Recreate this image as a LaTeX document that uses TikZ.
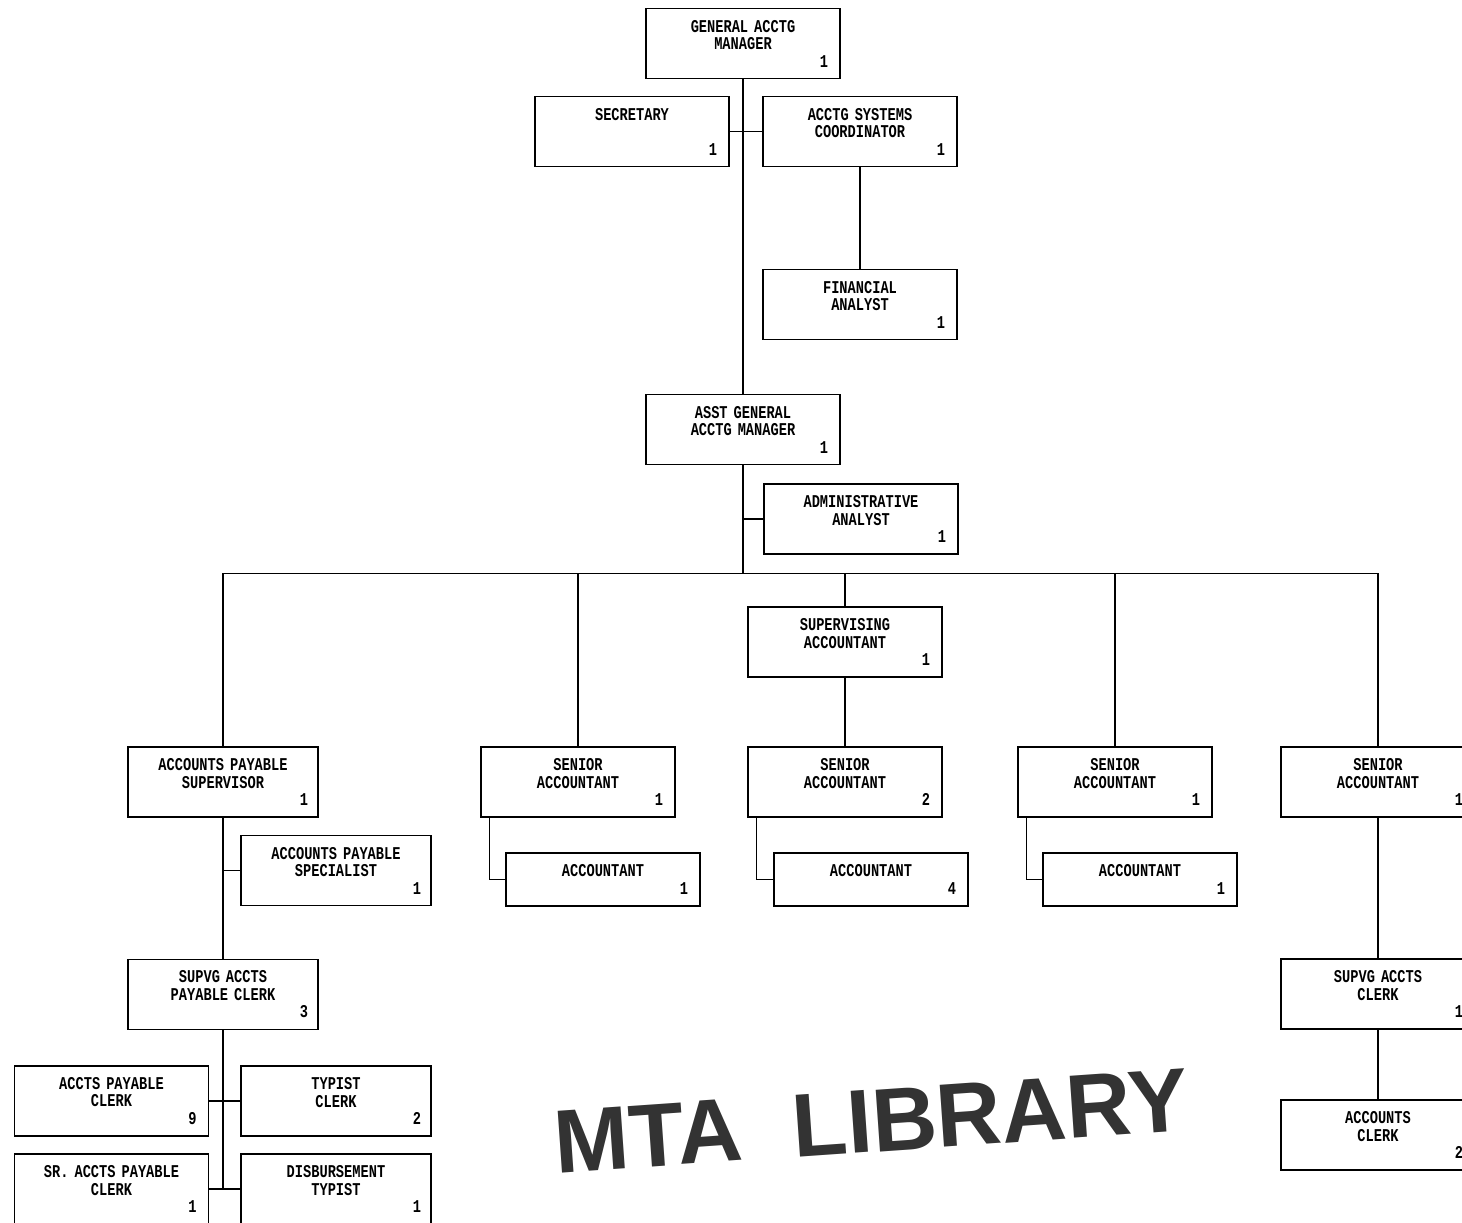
\documentclass[tikz,border=0pt]{standalone}
\usepackage{fontspec}
\newfontfamily\dotfont[FakeStretch=0.76]{Liberation Mono}
\newfontfamily\stampfont{Liberation Sans}
\usetikzlibrary{positioning}

\begin{document}
\begin{tikzpicture}[x=1pt,y=-1pt,on grid,line width=1.2pt,
  post/.style={draw,minimum width=194pt,minimum height=70pt,text width=170pt,
    align=center,inner sep=0pt,font=\dotfont\bfseries\fontsize{18}{17.5}\selectfont},
  staff/.style={post,minimum height=53pt},
  narrow/.style={post,minimum width=190pt},
  stamp/.style={inner sep=0pt,rotate=4,text=black!80,font=\stampfont\bfseries\fontsize{90}{90}\selectfont}]
  \clip (0,0) rectangle (1462,1223);
  \node[post] (gen) at (743,43.5) {GENERAL ACCTG\\MANAGER\\\hfill 1};
  \node[post] (sec) [below left=88pt and 111pt of gen] {SECRETARY\\\mbox{}\\\hfill 1};
  \node[post] (asc) [right=228pt of sec] {ACCTG SYSTEMS\\COORDINATOR\\\hfill 1};
  \node[post] (fa) [below=173pt of asc] {FINANCIAL\\ANALYST\\\hfill 1};
  \node[post] (asst) [below=386pt of gen] {ASST GENERAL\\ACCTG MANAGER\\\hfill 1};
  \node[post] (admin) [below right=89.5pt and 118pt of asst] {ADMINISTRATIVE\\ANALYST\\\hfill 1};
  \node[narrow] (aps) [below left=352.5pt and 520pt of asst] {ACCOUNTS PAYABLE\\SUPERVISOR\\\hfill 1};
  \node[post] (sa1) [right=355pt of aps] {SENIOR\\ACCOUNTANT\\\hfill 1};
  \node[post] (sa2) [right=267pt of sa1] {SENIOR\\ACCOUNTANT\\\hfill 2};
  \node[post] (sa3) [right=270pt of sa2] {SENIOR\\ACCOUNTANT\\\hfill 1};
  \node[post] (sa4) [right=263pt of sa3] {SENIOR\\ACCOUNTANT\\\hfill 1};
  \node[post] (supacc) [above=140pt of sa2] {SUPERVISING\\ACCOUNTANT\\\hfill 1};
  \node[staff] (acc1) [below right=97.5pt and 25pt of sa1] {ACCOUNTANT\\\hfill 1};
  \node[staff] (acc2) [below right=97.5pt and 26pt of sa2] {ACCOUNTANT\\\hfill 4};
  \node[staff] (acc3) [below right=97.5pt and 25pt of sa3] {ACCOUNTANT\\\hfill 1};
  \node[narrow] (apspec) [below right=88.5pt and 113pt of aps] {ACCOUNTS PAYABLE\\SPECIALIST\\\hfill 1};
  \node[narrow] (sapc) [below=212.5pt of aps] {SUPVG ACCTS\\PAYABLE CLERK\\\hfill 3};
  \node[post] (apc) [below left=106.5pt and 111.5pt of sapc] {ACCTS PAYABLE\\CLERK\\\hfill 9};
  \node[narrow] (tc) [right=224.5pt of apc] {TYPIST\\CLERK\\\hfill 2};
  \node[post] (srapc) [below=88pt of apc] {SR. ACCTS PAYABLE\\CLERK\\\hfill 1};
  \node[narrow] (dt) [below=88pt of tc] {DISBURSEMENT\\TYPIST\\\hfill 1};
  \node[post] (sac) [below=212pt of sa4] {SUPVG ACCTS\\CLERK\\\hfill 1};
  \node[post] (ac) [below=141pt of sac] {ACCOUNTS\\CLERK\\\hfill 2};
  \node[stamp] (mta) at (648,1136) {MTA};
  \node[stamp] (library) at (990,1113) {LIBRARY};
  \coordinate (bus) at ([yshift=-108pt]asst.south);
  \draw (gen) -- (asst);
  \draw (sec) -- (asc);
  \draw (asc) -- (fa);
  \draw (asst) -- (bus);
  \draw (admin.west) -- (admin.west -| asst.south);
  \draw (aps.north) |- (bus) -| (sa4.north);
  \draw (sa1.north) -- (sa1.north |- bus);
  \draw (supacc.north) -- (supacc.north |- bus);
  \draw (sa3.north) -- (sa3.north |- bus);
  \draw (supacc) -- (sa2);
  \draw ([xshift=9pt]sa1.south west) |- (acc1.west);
  \draw ([xshift=9pt]sa2.south west) |- (acc2.west);
  \draw ([xshift=9pt]sa3.south west) |- (acc3.west);
  \draw (apspec.west) -- (apspec.west -| aps.south);
  \draw (aps) -- (sapc);
  \draw (sapc.south) -- (sapc.south |- srapc.east);
  \draw (apc) -- (tc);
  \draw (srapc) -- (dt);
  \draw (sa4) -- (sac);
  \draw (sac) -- (ac);
\end{tikzpicture}
\end{document}
